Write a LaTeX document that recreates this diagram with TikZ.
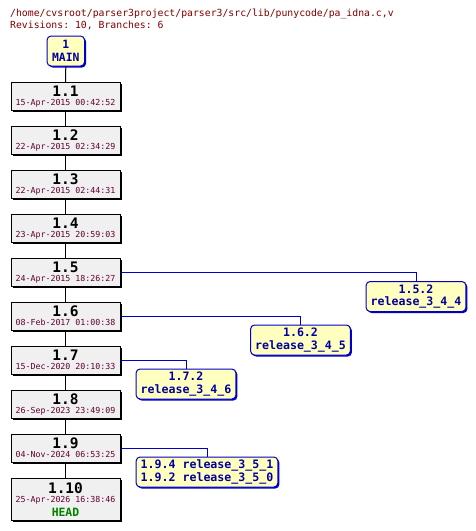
\documentclass[tikz,border=0pt]{standalone}
\usepackage{fontspec}
\setmonofont{DejaVu Sans Mono}
\usepackage{tikz}
\usetikzlibrary{positioning, shadows}
\definecolor{revfill}{HTML}{F0F0F0}
\definecolor{tagfill}{HTML}{FFFFC0}
\definecolor{brblue}{HTML}{0000C8}
\definecolor{brtext}{HTML}{0000A0}
\definecolor{datered}{HTML}{600030}
\definecolor{pathred}{HTML}{800000}
\definecolor{headgreen}{HTML}{008000}
\newcommand{\revnum}[1]{{\fontsize{14.5}{9}\selectfont\bfseries #1}}
\newcommand{\revdate}[1]{{\color{datered}#1\vphantom{p}}}

\begin{document}
\begin{tikzpicture}[
  x=1pt, y=-1pt,
  rev/.style={draw=black, line width=1pt, fill=revfill, minimum width=109pt,
              minimum height=28pt, inner sep=0pt, align=center,
              font=\ttfamily\fontsize{8.3}{9.2}\selectfont,
              drop shadow={shadow xshift=1.5pt, shadow yshift=-1.5pt, fill=black, opacity=1}},
  tag/.style={draw=brblue, line width=1pt, fill=tagfill, rounded corners=4pt,
              inner xsep=4.5pt, inner ysep=2pt, minimum height=30pt, align=center,
              text=brtext, font=\ttfamily\bfseries\fontsize{11.6}{12.4}\selectfont,
              drop shadow={shadow xshift=1.5pt, shadow yshift=-1.5pt, fill=brblue, opacity=1}},
  trunk/.style={line width=1pt, color=black},
  brline/.style={line width=1pt, color=brblue}
]
  \useasboundingbox (0,0) rectangle (476,531);

  % Header
  \node[anchor=base west, inner sep=0pt, text=pathred, font=\ttfamily\fontsize{9.8}{12}\selectfont]
    (path) at (10,16.5) {/home/cvsroot/parser3project/parser3/src/lib/punycode/pa\_idna.c,v};
  \node[anchor=base west, inner sep=0pt, text=pathred, font=\ttfamily\fontsize{9.8}{12}\selectfont]
    (info) at (10,28.5) {Revisions: 10, Branches: 6};

  % Trunk
  \node[tag, inner xsep=5pt, font=\ttfamily\bfseries\fontsize{11.4}{13.4}\selectfont]
    (main) at (65.8,51) {1\\MAIN};
  \node[rev] (r1) at (65.5,96.5) {\revnum{1.1}\\\revdate{15-Apr-2015 00:42:52}};
  \node[rev, below=15pt of r1] (r2) {\revnum{1.2}\\\revdate{22-Apr-2015 02:34:29}};
  \node[rev, below=15pt of r2] (r3) {\revnum{1.3}\\\revdate{22-Apr-2015 02:44:31}};
  \node[rev, below=15pt of r3] (r4) {\revnum{1.4}\\\revdate{23-Apr-2015 20:59:03}};
  \node[rev, below=15pt of r4] (r5) {\revnum{1.5}\\\revdate{24-Apr-2015 18:26:27}};
  \node[rev, below=15pt of r5] (r6) {\revnum{1.6}\\\revdate{08-Feb-2017 01:00:38}};
  \node[rev, below=15pt of r6] (r7) {\revnum{1.7}\\\revdate{15-Dec-2020 20:10:33}};
  \node[rev, below=15pt of r7] (r8) {\revnum{1.8}\\\revdate{26-Sep-2023 23:49:09}};
  \node[rev, below=15pt of r8] (r9) {\revnum{1.9}\\\revdate{04-Nov-2024 06:53:25}};
  \node[rev, minimum height=42pt, below=15pt of r9] (r10)
    {\revnum{1.10}\\\revdate{25-Apr-2026 16:38:46}\\[3pt]{\color{headgreen}\bfseries\fontsize{11.4}{12}\selectfont HEAD}};

  % Branches
  \node[tag] (b152) at (416,296.5) {1.5.2\\release\_3\_4\_4};
  \node[tag] (b162) at (300.5,340) {1.6.2\\release\_3\_4\_5};
  \node[tag] (b172) at (186,384) {1.7.2\\release\_3\_4\_6};
  \node[tag, align=left] (b19) at (207,472) {1.9.4 release\_3\_5\_1\\1.9.2 release\_3\_5\_0};

  % Connectors
  \draw[trunk] (main.south) -- (r1.north);
  \draw[trunk] (r1) -- (r2);
  \draw[trunk] (r2) -- (r3);
  \draw[trunk] (r3) -- (r4);
  \draw[trunk] (r4) -- (r5);
  \draw[trunk] (r5) -- (r6);
  \draw[trunk] (r6) -- (r7);
  \draw[trunk] (r7) -- (r8);
  \draw[trunk] (r8) -- (r9);
  \draw[trunk] (r9) -- (r10);

  \draw[brline] (r5.east) -| (b152.north);
  \draw[brline] (r6.east) -| (b162.north);
  \draw[brline] (r7.east) -| (b172.north);
  \draw[brline] (r9.east) -| (b19.north);
\end{tikzpicture}
\end{document}
